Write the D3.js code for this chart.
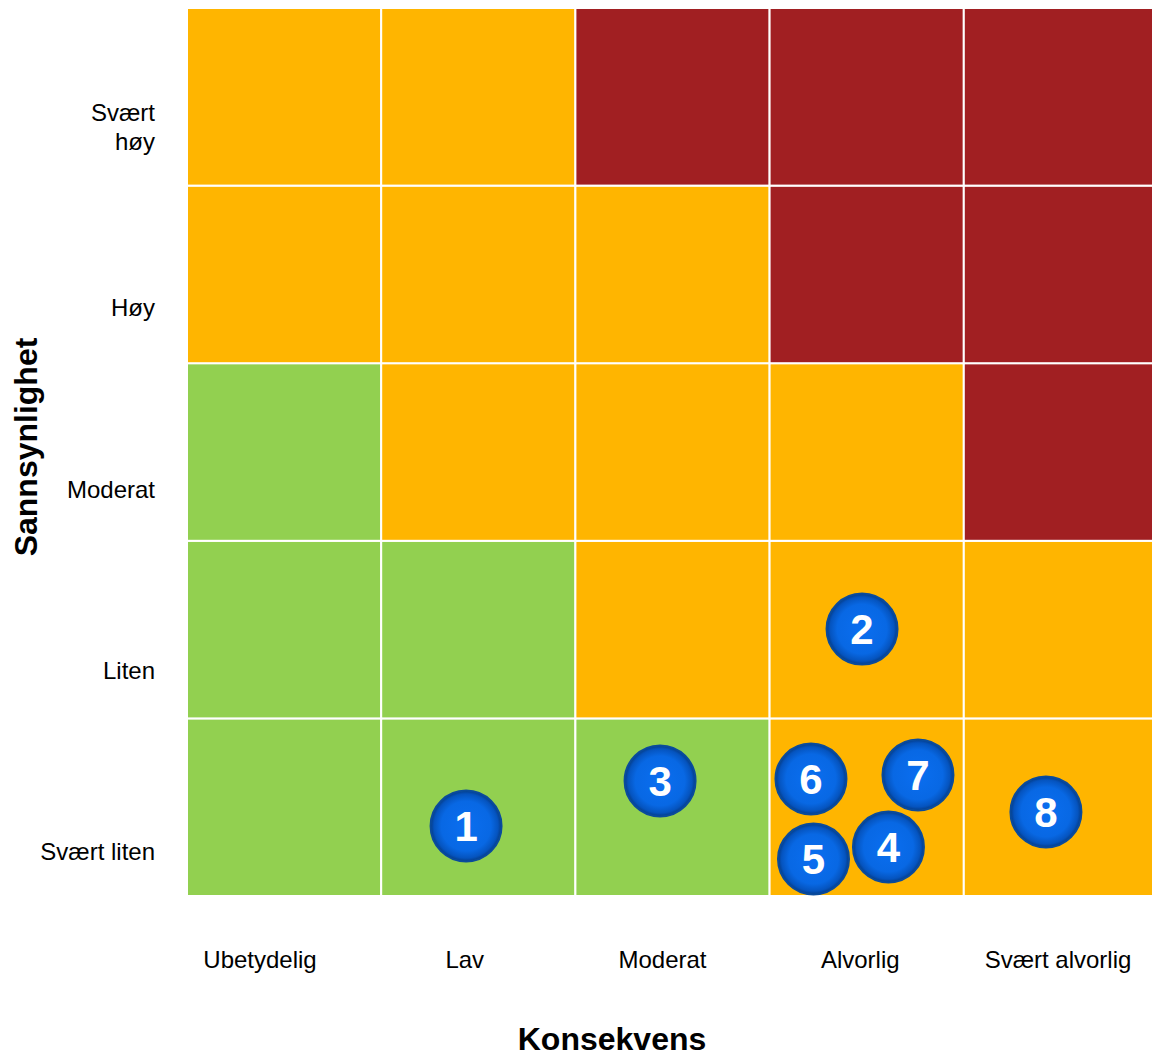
<!DOCTYPE html>
<html>
<head>
<meta charset="utf-8">
<script src="https://cdn.jsdelivr.net/npm/d3@7"></script>
<style>
  body { margin: 0; background: #fff; }
  text { font-family: Arial, "Liberation Sans", sans-serif; }
</style>
</head>
<body>
<svg id="chart" width="1152" height="1057"></svg>
<script>
// consequence categories (x) and likelihood categories (y, bottom to top)
const consequences = ['Ubetydelig', 'Lav', 'Moderat', 'Alvorlig', 'Svært alvorlig'];
const likelihoods = ['Svært liten', 'Liten', 'Moderat', 'Høy', 'Svært høy'];

// risk level per cell, row = likelihood (bottom to top), col = consequence
const riskLevels = [
    ['G', 'G', 'G', 'O', 'O'],
    ['G', 'G', 'O', 'O', 'O'],
    ['G', 'O', 'O', 'O', 'R'],
    ['O', 'O', 'O', 'R', 'R'],
    ['O', 'O', 'R', 'R', 'R']
];

// numbered risks, positions in grid units (0..5)
const riskIds = [1, 2, 3, 4, 5, 6, 7, 8];
const riskX = [1.437, 3.476, 2.436, 3.612, 3.226, 3.213, 3.764, 4.423];
const riskY = [0.394, 1.503, 0.648, 0.276, 0.208, 0.659, 0.682, 0.473];

const colors = { G: '#92D050', O: '#FFB500', R: '#A11F22' };

const svg = d3.select('#chart');
const gLeft = 187, gRight = 1158, gTop = 8, gBottom = 896;

const x = d3.scaleLinear().domain([0, 5]).range([gLeft, gRight]);
const y = d3.scaleLinear().domain([0, 5]).range([gBottom, gTop]);

// gradient for the bubbles
const defs = svg.append('defs');
const grad = defs.append('radialGradient')
    .attr('id', 'bubble')
    .attr('cx', '50%').attr('cy', '50%').attr('r', '50%');
grad.append('stop').attr('offset', '0%').attr('stop-color', '#0a6ef0');
grad.append('stop').attr('offset', '70%').attr('stop-color', '#0868e4');
grad.append('stop').attr('offset', '90%').attr('stop-color', '#0554bf');
grad.append('stop').attr('offset', '100%').attr('stop-color', '#043c88');

// cells
const cells = [];
riskLevels.forEach((row, r) => row.forEach((lvl, c) => cells.push({ r, c, lvl })));

svg.append('g').selectAll('rect')
    .data(cells)
    .join('rect')
    .attr('x', d => x(d.c))
    .attr('y', d => y(d.r + 1))
    .attr('width', d => x(d.c + 1) - x(d.c))
    .attr('height', d => y(d.r) - y(d.r + 1))
    .attr('fill', d => colors[d.lvl])
    .attr('stroke', '#fff')
    .attr('stroke-width', 2);

// category labels (sit a little left of the column centres)
const xLab = d3.scalePoint().domain(consequences).range([262, 1057]);
svg.append('g').selectAll('text')
    .data(consequences)
    .join('text')
    .attr('x', (d, i) => i === 0 ? xLab(d) - 2 : xLab(d) + 5 - i)
    .attr('y', 968)
    .attr('text-anchor', 'middle')
    .attr('font-size', 24)
    .attr('fill', '#000')
    .text(d => d);

const yLab = d3.scalePoint().domain(likelihoods).range([852, 127]);
const yText = svg.append('g').selectAll('text')
    .data(likelihoods)
    .join('text')
    .attr('text-anchor', 'end')
    .attr('font-size', 24)
    .attr('fill', '#000');

yText.each(function(d) {
    const t = d3.select(this);
    const lines = d === 'Svært høy' ? ['Svært', 'høy'] : [d];
    const y0 = yLab(d) - (lines.length - 1) * 29 / 2 + 8;
    lines.forEach((ln, i) => {
        t.append('tspan').attr('x', 155).attr('y', y0 + i * 29).text(ln);
    });
});

// axis titles
svg.append('text')
    .attr('x', 612).attr('y', 1050)
    .attr('text-anchor', 'middle')
    .attr('font-size', 32).attr('font-weight', 'bold')
    .text('Konsekvens');

svg.append('text')
    .attr('transform', 'translate(37,447) rotate(-90)')
    .attr('text-anchor', 'middle')
    .attr('font-size', 32).attr('font-weight', 'bold')
    .text('Sannsynlighet');

// bubbles
const risks = riskIds.map((id, i) => ({ id, cx: riskX[i], cy: riskY[i] }));
const b = svg.append('g').selectAll('g')
    .data(risks)
    .join('g')
    .attr('transform', d => `translate(${x(d.cx)},${y(d.cy)})`);

b.append('circle')
    .attr('r', 35.5)
    .attr('fill', 'url(#bubble)')
    .attr('stroke', '#0a4b9c')
    .attr('stroke-width', 2);

b.append('text')
    .attr('text-anchor', 'middle')
    .attr('y', 15)
    .attr('font-size', 42)
    .attr('font-weight', 'bold')
    .attr('fill', '#fff')
    .text(d => d.id);
</script>
</body>
</html>
